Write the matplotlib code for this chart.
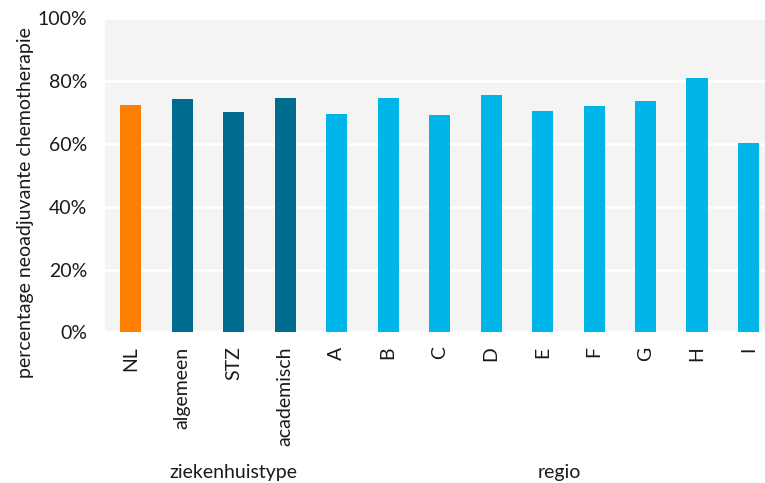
import matplotlib
matplotlib.use("Agg")
import matplotlib.pyplot as plt

categorieen = ["NL", "algemeen", "STZ", "academisch",
               "A", "B", "C", "D", "E", "F", "G", "H", "I"]
percentages = [72.3, 74.2, 70.0, 74.5,
               69.4, 74.5, 69.1, 75.4, 70.4, 71.9, 73.5, 80.8, 60.3]
kleuren = ["#FF7F00"] + ["#006C8E"] * 3 + ["#00B5E8"] * 9

plt.rcParams["font.family"] = ["Lato", "DejaVu Sans"]

fig = plt.figure(figsize=(7.65, 4.83), dpi=100)
ax = fig.add_axes([0.1373, 0.3116, 0.8627, 0.6518])
ax.set_facecolor("#F4F4F4")

x = list(range(len(categorieen)))
ax.bar(x, percentages, width=0.41, color=kleuren, zorder=3)

ax.set_xlim(-0.5, 12.32)
ax.set_ylim(0, 100)
ax.set_yticks([0, 20, 40, 60, 80, 100])
ax.set_yticklabels([f"{v}%" for v in [0, 20, 40, 60, 80, 100]], fontsize=14, color="#1a1a1a")
ax.set_xticks(x)
ax.set_xticklabels(categorieen, rotation=90, fontsize=14, color="#1a1a1a")
ax.tick_params(length=0, pad=10)
ax.tick_params(axis="y", pad=13)
ax.grid(axis="y", color="white", linewidth=2, zorder=1)
for s in ax.spines.values():
    s.set_visible(False)

# groepslabels onder de as
ax.text(2, -44.6, "ziekenhuistype", ha="center", va="center", fontsize=14,
        color="#1a1a1a", clip_on=False)
ax.text(8.32, -44.6, "regio", ha="center", va="center", fontsize=14,
        color="#1a1a1a", clip_on=False)

fig.text(0.0327, 1 - 203 / 483, "percentage neoadjuvante chemotherapie",
         rotation=90, ha="center", va="center", fontsize=14, color="#1a1a1a")

fig.savefig("out.png", dpi=100)
